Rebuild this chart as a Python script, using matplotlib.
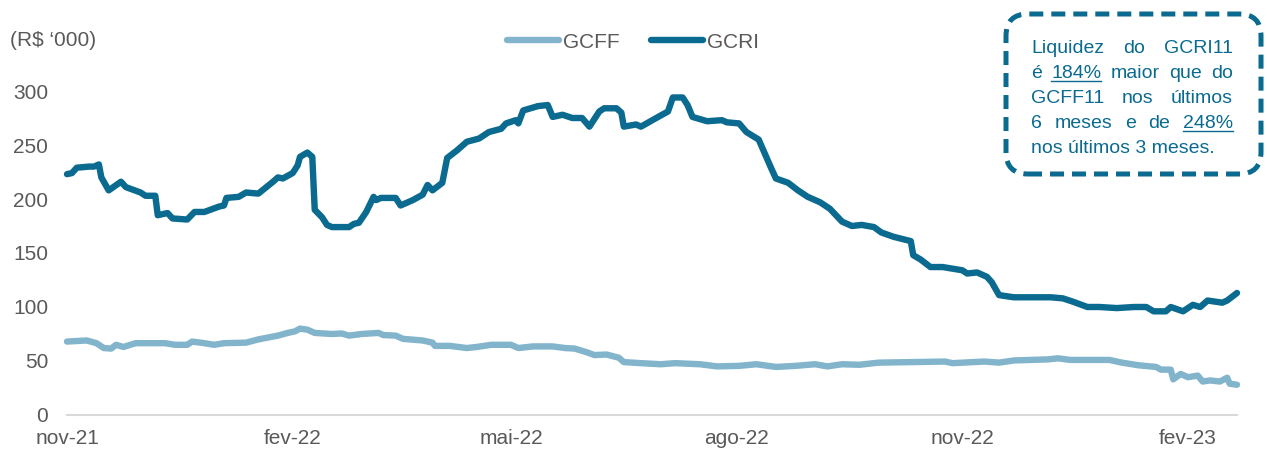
import matplotlib
matplotlib.use("Agg")
import matplotlib.pyplot as plt
from matplotlib.patches import FancyBboxPatch
from matplotlib.lines import Line2D
from matplotlib.transforms import IdentityTransform
import pandas as pd

plt.rcParams["font.family"] = ["Liberation Sans", "DejaVu Sans"]

# ---------------------------
# data
# ---------------------------
START = pd.Timestamp("2021-11-01")
END_DAY = 477

gcri_day = [0, 2, 4, 9, 11, 13, 14, 17, 22, 24, 30, 32, 36, 37, 41, 43, 49, 52, 56, 62,
            64, 65, 70, 73, 78, 84, 86, 88, 92, 94, 95, 98, 100, 101, 104, 106, 108, 115, 117, 119,
            122, 125, 126, 128, 134, 136, 141, 145, 147, 149, 153, 155, 159, 163, 168, 172, 177, 179, 183, 184,
            186, 192, 196, 198, 202, 206, 210, 213, 217, 219, 224, 226, 227, 232, 234, 241, 245, 247, 251, 253,
            255, 261, 267, 269, 274, 277, 282, 287, 289, 294, 298, 302, 307, 311, 316, 320, 324, 329, 332, 337,
            344, 345, 348, 352, 357, 365, 367, 371, 375, 377, 380, 386, 393, 401, 406, 410, 416, 421, 428, 435,
            440, 443, 448, 450, 455, 459, 462, 465, 471, 473, 477]
gcri_val = [223, 224, 229, 230, 230, 232, 220, 208, 216, 211, 206, 203, 203, 185, 187, 182, 181, 188, 188, 193,
            194, 201, 202, 206, 205, 216, 220, 219, 224, 231, 239, 243, 239, 190, 183, 176, 174, 174, 177, 178,
            188, 202, 199, 201, 201, 194, 199, 204, 213, 208, 215, 238, 245, 253, 256, 262, 265, 270, 273, 270,
            282, 286, 287, 276, 278, 275, 275, 267, 281, 284, 284, 280, 267, 269, 267, 276, 281, 294, 294, 287,
            276, 272, 273, 271, 270, 262, 255, 229, 219, 215, 208, 202, 197, 191, 179, 175, 176, 174, 169, 165,
            161, 148, 144, 137, 137, 134, 131, 132, 128, 123, 111, 109, 109, 109, 108, 105, 100, 100, 99, 100,
            100, 96, 96, 100, 96, 102, 100, 106, 104, 106, 113]

gcff_day = [0, 8, 12, 15, 18, 20, 23, 28, 40, 44, 49, 51, 56, 60, 64, 73, 78, 86, 90, 93,
            95, 98, 101, 108, 112, 115, 120, 127, 129, 134, 137, 145, 149, 150, 156, 163, 167, 173, 181, 184,
            190, 198, 203, 207, 212, 215, 220, 225, 227, 234, 242, 248, 258, 265, 274, 281, 289, 297, 305, 310,
            316, 323, 331, 345, 358, 361, 374, 380, 386, 400, 404, 409, 425, 430, 437, 444, 446, 450, 451, 454,
            457, 461, 463, 466, 470, 473, 474, 477]
gcff_val = [68, 69, 66.5, 62, 61.5, 65, 63, 66.5, 66.5, 65, 65, 68, 66.5, 65, 66.5, 67, 70, 73.5, 76, 77.5,
            80, 79, 76, 75, 75.5, 73.5, 75, 76, 74, 73.5, 70.5, 69, 67, 64, 64, 62, 63, 65, 65, 62,
            63.5, 63.5, 62, 61.5, 58, 55.5, 56, 53, 49, 48, 47, 48, 47, 45, 45.5, 47, 44.5, 45.5, 47, 45,
            47, 46.5, 48.5, 49, 49.5, 48, 49.5, 48.5, 50.5, 51.5, 52.5, 51, 51, 48.5, 46, 44.5, 42, 42, 33, 38,
            35, 36.5, 31, 32, 31, 34.5, 29, 28]

tick_dates = ["2021-11-01", "2022-02-01", "2022-05-01", "2022-08-01", "2022-11-01", "2023-02-01"]
tick_labels = ["nov-21", "fev-22", "mai-22", "ago-22", "nov-22", "fev-23"]
y_ticks = [0, 50, 100, 150, 200, 250, 300]

note_lines = [
    ["Liquidez", "do", "GCRI11"],
    ["é", "184%", "maior", "que", "do"],
    ["GCFF11", "nos", "últimos"],
    ["6", "meses", "e", "de", "248%"],
    ["nos últimos 3 meses."],
]
underlined = {"184%", "248%"}

DARK = "#0a6a8f"
LIGHT = "#82b4cc"
GREY = "#595959"
FS = 15

W, H = 1267, 450
fig = plt.figure(figsize=(W / 100, H / 100), dpi=100)
ax = fig.add_axes([67 / W, 35 / H, (1237 - 67) / W, (415 - 91) / H])

ri_dates = START + pd.to_timedelta(gcri_day, unit="D")
ff_dates = START + pd.to_timedelta(gcff_day, unit="D")

ax.plot(ff_dates, gcff_val, color=LIGHT, lw=4.6, label="GCFF",
        solid_capstyle="round", solid_joinstyle="round", clip_on=False)
ax.plot(ri_dates, gcri_val, color=DARK, lw=4.6, label="GCRI",
        solid_capstyle="round", solid_joinstyle="round", clip_on=False)

ax.set_xlim(START, START + pd.Timedelta(days=END_DAY))
ax.set_ylim(0, 300)
ax.set_yticks(y_ticks)
ax.set_xticks(pd.to_datetime(tick_dates))
ax.set_xticklabels(tick_labels)

for side in ["left", "top", "right"]:
    ax.spines[side].set_visible(False)
ax.spines["bottom"].set_color("#d9d9d9")
ax.spines["bottom"].set_linewidth(1.5)
ax.tick_params(axis="y", length=0, pad=13.5, labelsize=FS, labelcolor=GREY)
ax.tick_params(axis="x", length=0, pad=10, labelsize=FS, labelcolor=GREY)

fig.text(10 / W, 1 - 40 / H, "(R$ \u2018000)", fontsize=FS, color=GREY,
         ha="left", va="center")

fig.legend(loc="center", bbox_to_anchor=(633 / W, 1 - 42 / H), ncol=2, frameon=False,
           fontsize=FS, labelcolor=GREY, handlelength=2.5, handletextpad=0.2,
           columnspacing=1.5)

# ---------------------------
# dashed note box (pixel coords)
# ---------------------------
ident = IdentityTransform()
box = FancyBboxPatch((1006, H - 174), 255, 160,
                     boxstyle="round,pad=0,rounding_size=22",
                     transform=ident, fill=False, edgecolor=DARK, lw=3.6,
                     linestyle=(0, (2.8, 1.6)), capstyle="butt")
fig.patches.append(box)
box.set_figure(fig)

left, right = 1031, 1233
renderer = fig.canvas.get_renderer()
for i, words in enumerate(note_lines):
    base_y = H - (53 + 25 * i)
    texts = [fig.text(left, base_y, w, fontsize=14, color=DARK, ha="left",
                      va="baseline", transform=ident) for w in words]
    if len(texts) > 1:
        widths = [t.get_window_extent(renderer).width for t in texts]
        gap = (right - left - sum(widths)) / (len(texts) - 1)
        x = left
        for t, w in zip(texts, widths):
            t.set_position((x, base_y))
            x += w + gap
    for t, w in zip(texts, words):
        if w in underlined:
            bb = t.get_window_extent(renderer)
            fig.lines.append(Line2D([bb.x0, bb.x1], [base_y - 2.5, base_y - 2.5],
                                    color=DARK, lw=1.0, transform=ident))

fig.savefig("out.png", dpi=100)
